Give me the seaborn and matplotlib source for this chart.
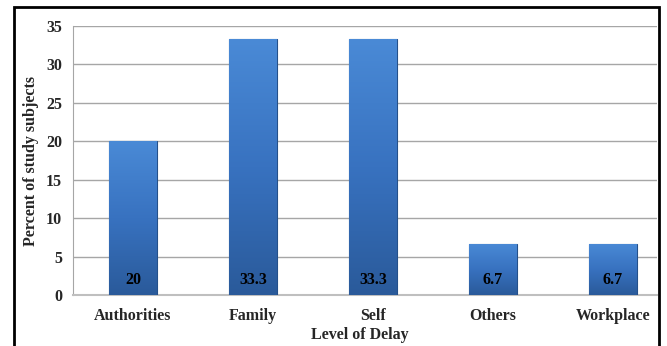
import matplotlib
matplotlib.use("Agg", force=True)
import matplotlib.pyplot as plt
import numpy as np
import pandas as pd
import seaborn as sns
from matplotlib.patches import Rectangle

categories = ["Authorities", "Family", "Self", "Others", "Workplace"]
percents = [20, 33.3, 33.3, 6.7, 6.7]
value_labels = ["20", "33.3", "33.3", "6.7", "6.7"]
y_ticks = [0, 5, 10, 15, 20, 25, 30, 35]


def main() -> None:
    sns.set_style("white")
    plt.rcParams["font.family"] = ["Liberation Serif", "DejaVu Serif"]
    plt.rcParams["font.weight"] = "bold"

    df = pd.DataFrame({"cause": categories, "pct": percents})

    fig = plt.figure(figsize=(6.67, 3.46), dpi=100)
    ax = fig.add_axes([73 / 667, 51 / 346, 584 / 667, 269 / 346])

    sns.barplot(data=df, x="cause", y="pct", color="#3b78c8", width=0.4,
                saturation=1, ax=ax, zorder=3)

    # vertical gradient on each bar, clipped to the bar shape
    grad = np.linspace(0, 1, 256).reshape(-1, 1)
    cmap = matplotlib.colors.LinearSegmentedColormap.from_list(
        "bar", ["#2a5a9a", "#3872c0", "#4a8ad6"])
    for patch in ax.patches:
        x0, y0 = patch.get_x(), patch.get_y()
        w, h = patch.get_width(), patch.get_height()
        im = ax.imshow(grad, extent=[x0, x0 + w, y0, y0 + h], origin="lower",
                       aspect="auto", cmap=cmap, zorder=3.5)
        im.set_clip_path(patch)
        patch.set_edgecolor("#24508a")
        patch.set_linewidth(0.8)

    for patch, lab in zip(ax.patches, value_labels):
        ax.text(patch.get_x() + patch.get_width() / 2, 2.0, lab,
                ha="center", va="center", fontsize=11.5, fontweight="bold",
                color="black", zorder=5)

    ax.set_xlim(-0.5, -0.5 + 584 / 120)
    ax.set_ylim(0, 35)
    ax.set_yticks(y_ticks)
    ax.yaxis.grid(True, color="#a6a6a6", linewidth=1.0, zorder=0)
    ax.set_axisbelow(True)
    for side in ["top", "right"]:
        ax.spines[side].set_visible(False)
    ax.spines["left"].set_color("#a6a6a6")
    ax.spines["bottom"].set_color("#bfbfbf")
    ax.spines["bottom"].set_linewidth(1.5)
    ax.tick_params(axis="y", length=4, color="#a6a6a6", labelsize=11.5, pad=4)
    ax.tick_params(axis="x", length=0, labelsize=11.5, pad=9)
    for t in ax.get_xticklabels() + ax.get_yticklabels():
        t.set_fontweight("bold")

    ax.set_xlabel("Level of Delay", fontsize=11.5, fontweight="bold")
    ax.xaxis.set_label_coords(0.491, -0.118)
    ax.xaxis.label.set_va("top")
    ax.set_ylabel("Percent of study subjects", fontsize=11.5, fontweight="bold", labelpad=5)

    # outer chart border
    fig.patches.append(Rectangle((14 / 667, -0.02), 645 / 667, 1.02 - 7 / 346,
                                 transform=fig.transFigure, fill=False,
                                 edgecolor="black", linewidth=2, zorder=10))

    fig.savefig("out.png", dpi=100)
    plt.close(fig)


if __name__ == "__main__":
    main()
